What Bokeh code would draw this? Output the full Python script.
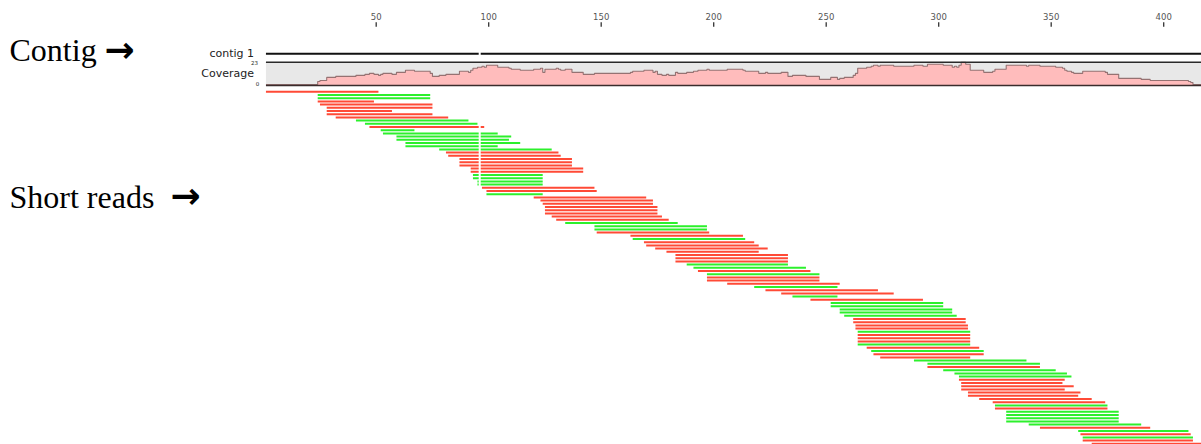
import numpy as np
from bokeh.plotting import figure
from bokeh.models import Range1d, Label
from bokeh.embed import file_html
from bokeh.resources import INLINE
from bokeh.core.properties import value

# ---------------- data ----------------
contig_name = "contig 1"
contig_start = 1
contig_end = 420
contig_gap = 96          # alignment gap column
coverage_max = 23
ruler_ticks = [50, 100, 150, 200, 250, 300, 350, 400]
ruler_labels = ["50", "100", "150", "200", "250", "300", "350", "400"]

read_start = [1, 24, 24, 24, 25, 28, 28, 28, 32, 41, 45, 47, 52, 53, 59, 59, 63, 63, 78, 81,
              82, 87, 87, 87, 92, 92, 93, 93, 95, 95, 97, 99, 99, 120, 123, 124, 125, 125, 125, 128,
              130, 134, 147, 147, 148, 163, 164, 169, 170, 174, 179, 183, 183, 183, 188, 191, 193, 197, 197, 197,
              206, 218, 223, 230, 235, 243, 252, 252, 256, 256, 258, 262, 262, 263, 263, 264, 264, 264, 264, 264,
              268, 270, 271, 274, 289, 295, 295, 302, 307, 309, 309, 310, 310, 310, 313, 313, 318, 324, 325, 325,
              330, 330, 330, 330, 340, 345, 362, 363, 364, 364, 368]
read_end = [51, 74, 74, 49, 75, 75, 57, 75, 82, 91, 95, 98, 67, 104, 110, 109, 114, 104, 128, 131,
            132, 137, 137, 137, 142, 142, 124, 124, 124, 124, 147, 148, 124, 170, 173, 173, 175, 175, 175, 177,
            180, 184, 197, 197, 198, 213, 214, 218, 220, 224, 220, 233, 233, 233, 233, 241, 243, 247, 247, 247,
            256, 255, 273, 280, 255, 293, 302, 302, 306, 306, 308, 312, 312, 313, 313, 314, 314, 314, 314, 314,
            318, 320, 320, 314, 339, 345, 345, 352, 357, 359, 356, 355, 360, 356, 363, 362, 368, 374, 375, 375,
            380, 380, 380, 380, 390, 394, 411, 412, 413, 413, 417]
read_strand = ["+", "-", "-", "+", "+", "+", "+", "+", "+", "-", "-", "+", "-", "-", "-", "-", "-", "-", "-", "+",
               "+", "+", "+", "+", "+", "+", "-", "-", "-", "-", "+", "+", "-", "+", "+", "+", "+", "+", "+", "+",
               "+", "-", "-", "-", "+", "+", "-", "+", "+", "+", "+", "+", "+", "+", "-", "-", "+", "-", "+", "+",
               "+", "-", "+", "+", "-", "+", "-", "-", "-", "-", "-", "+", "+", "+", "+", "-", "+", "+", "+", "-",
               "+", "-", "+", "+", "-", "-", "+", "-", "-", "-", "+", "+", "+", "+", "+", "+", "+", "+", "-", "+",
               "-", "-", "-", "-", "-", "+", "-", "+", "-", "+", "+"]

cov_pos = [1, 24, 25, 28, 32, 41, 45, 47, 49, 51, 52, 53, 57, 59, 63, 67, 74, 75, 78, 81,
           87, 91, 92, 93, 95, 97, 98, 99, 104, 109, 110, 114, 120, 123, 124, 125, 130, 131, 132, 134,
           137, 142, 147, 163, 164, 169, 173, 174, 175, 177, 179, 180, 183, 184, 188, 191, 193, 197, 198, 206,
           213, 214, 220, 223, 224, 230, 233, 235, 241, 247, 252, 255, 256, 258, 262, 263, 264, 268, 270, 271,
           273, 274, 280, 289, 293, 295, 302, 306, 307, 308, 309, 310, 312, 314, 320, 324, 325, 330, 339, 340,
           345, 352, 355, 356, 357, 359, 360, 364, 374, 375, 380, 390, 394, 411, 412, 413, 417]
cov_val = [1, 4, 5, 8, 9, 10, 11, 12, 11, 10, 11, 12, 11, 13, 15, 14, 12, 9, 10, 11,
           14, 13, 15, 17, 18, 19, 18, 20, 18, 17, 16, 15, 16, 17, 13, 16, 17, 16, 15, 16,
           13, 11, 12, 13, 14, 15, 13, 14, 11, 10, 11, 10, 13, 12, 13, 14, 15, 16, 15, 16,
           15, 14, 12, 13, 12, 13, 9, 10, 9, 6, 8, 6, 7, 8, 10, 12, 17, 18, 19, 20,
           19, 20, 19, 20, 19, 21, 20, 18, 19, 18, 20, 23, 21, 15, 13, 14, 16, 20, 19, 20,
           19, 18, 17, 15, 14, 13, 12, 14, 13, 11, 7, 6, 5, 4, 3, 1, 0]

# ---------------- layout / style ----------------
W, H = 1201, 444
PX0, PY0 = 0, 0                 # page offset of the canvas
X50, BP_PX = 375.7, 2.25        # page x of position 50, pixels per base
ROW0_Y, ROW_H = 91.3, 3.2       # page y of first read row, row pitch
COV_TOP, COV_BOT = 61.7, 85.0   # page y of coverage band
CONTIG_Y = 53.3
GAP_HALF = 0.45

RED = "#ff4a36"
GREEN = "#2cf02c"

x_lo = 50 + (PX0 - X50) / BP_PX
x_hi = 50 + (PX0 + W - X50) / BP_PX
k = (COV_BOT - COV_TOP) / coverage_max

p = figure(width=W, height=H, output_backend="svg", toolbar_location=None,
           x_range=Range1d(x_lo, x_hi),
           y_range=Range1d((PY0 + H - ROW0_Y) / ROW_H, (PY0 - ROW0_Y) / ROW_H),
           x_axis_location=None, y_axis_location=None, min_border=0, title=None)
p.extra_y_ranges = {"cov": Range1d(-(PY0 + H - COV_BOT) / k, (COV_BOT - PY0) / k),
                    "py": Range1d(PY0 + H, PY0)}
p.extra_x_ranges = {"px": Range1d(PX0, PX0 + W)}
p.grid.visible = False
p.outline_line_color = None
p.background_fill_color = "white"
p.border_fill_color = "white"

# ruler
p.segment(x0=ruler_ticks, x1=ruler_ticks, y0=[21.7] * len(ruler_ticks), y1=[26.2] * len(ruler_ticks),
          y_range_name="py", line_color="#333333", line_width=1.3)
p.text(x=ruler_ticks, y=[15.8] * len(ruler_ticks), text=ruler_labels, y_range_name="py",
       text_font=value("DejaVu Sans"), text_font_size="8.5px", text_color="#555555",
       text_align="center", text_baseline="middle")

# contig line with gap
p.segment(x0=[contig_start, contig_gap + GAP_HALF], x1=[contig_gap - GAP_HALF, contig_end],
          y0=[CONTIG_Y, CONTIG_Y], y1=[CONTIG_Y, CONTIG_Y], y_range_name="py",
          line_color="#111111", line_width=2)

# coverage band
p.quad(left=[contig_start], right=[contig_end], bottom=[0], top=[coverage_max], y_range_name="cov",
       fill_color="#e8e8e8", line_color=None)
cp = np.array(cov_pos, dtype=float)
cv = np.array(cov_val, dtype=float)
xs = np.repeat(cp, 2)[1:]
ys = np.repeat(cv, 2)[:-1]
p.varea(x=xs, y1=np.zeros_like(ys), y2=ys, y_range_name="cov", fill_color="#ffbcbc")
p.line(x=xs, y=ys, y_range_name="cov", line_color="#957272", line_width=1.1)
p.segment(x0=[contig_start], x1=[contig_end], y0=[coverage_max], y1=[coverage_max], y_range_name="cov",
          line_color="#2a2a2a", line_width=1.5)
p.segment(x0=[contig_start], x1=[contig_end], y0=[0], y1=[0], y_range_name="cov",
          line_color="#3a2c2c", line_width=1.6)

# reads
sx0, sx1, sy, sc = [], [], [], []
for i, (s, e, st) in enumerate(zip(read_start, read_end, read_strand)):
    col = RED if st == "+" else GREEN
    if s < contig_gap - GAP_HALF and e > contig_gap + GAP_HALF:
        pieces = [(s, contig_gap - GAP_HALF), (contig_gap + GAP_HALF, e)]
    else:
        pieces = [(s, e)]
    for a, b in pieces:
        sx0.append(a); sx1.append(b); sy.append(i); sc.append(col)
p.segment(x0=sx0, x1=sx1, y0=sy, y1=sy, line_color=sc, line_width=2)

# track labels
def lab(txt, x, y, size, align="right", font="DejaVu Sans", color="#222222", style="normal"):
    p.add_layout(Label(x=x, y=y, text=txt, x_range_name="px", y_range_name="py",
                       text_font=font, text_font_size=size, text_color=color,
                       text_align=align, text_baseline="middle", text_font_style=style))

lab(contig_name, 253.5, 52.8, "11px")
lab("Coverage", 253.5, 73.4, "11px")
lab(str(coverage_max), 257.5, 61.6, "5.5px")
lab("0", 258.7, 82.8, "5.5px")

lab("Contig", 9, 49.9, "32px", align="left", font="Liberation Serif", color="#000000")
lab("\u2192", 104, 48.5, "36px", align="left", font="DejaVu Sans", color="#000000", style="bold")
lab("Short reads", 9, 196, "32px", align="left", font="Liberation Serif", color="#000000")
lab("\u2192", 170, 195, "36px", align="left", font="DejaVu Sans", color="#000000", style="bold")

open("out.html", "w").write(file_html(p, INLINE))
